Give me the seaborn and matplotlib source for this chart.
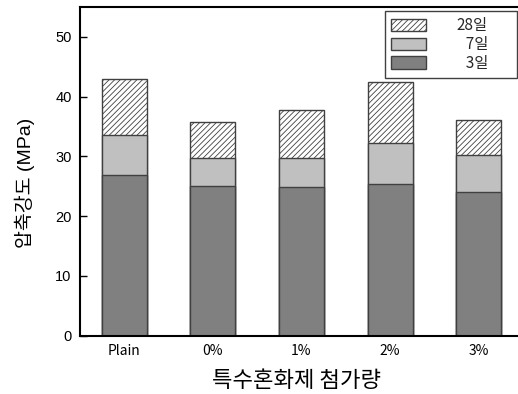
import matplotlib
matplotlib.use("Agg")
import matplotlib.pyplot as plt
from matplotlib.patches import Patch
from matplotlib.font_manager import FontProperties
import pandas as pd
import seaborn as sns

# Compressive strength by admixture dosage and curing age
groups = ["Plain", "0%", "1%", "2%", "3%"]
day3 = [26.8, 25.0, 24.8, 25.3, 24.1]
day7 = [33.5, 29.8, 29.7, 32.3, 30.2]
day28 = [43.0, 35.8, 37.8, 42.5, 36.1]
series_labels = ["28일", "\u20077일", "\u20073일"]
yticks = [0, 10, 20, 30, 40, 50]

sns.set_theme(style="white")
plt.rcParams["font.family"] = ["Noto Sans CJK KR", "DejaVu Sans"]
plt.rcParams["hatch.linewidth"] = 0.6
plt.rcParams["hatch.color"] = "#404040"

df = pd.DataFrame({"group": groups, "d3": day3, "d7": day7, "d28": day28})

fig = plt.figure(figsize=(5.18, 3.94), dpi=100)
ax = fig.add_axes([80 / 518, 1 - 335.5 / 394, 443 / 518, 328.5 / 394])

# overlapping bars: longest age at the back, shortest in front
layers = [("d28", "white", "//////"), ("d7", "#c0c0c0", None), ("d3", "#808080", None)]
for col, color, hatch in layers:
    sns.barplot(data=df, x="group", y=col, order=groups, color=color,
                saturation=1, width=0.51, edgecolor="#404040", linewidth=1.0,
                hatch=hatch, errorbar=None, ax=ax)

ax.set_xlim(-0.5, 4.5)
ax.set_ylim(0, 55)
ax.set_yticks(yticks)

for side in ["left", "bottom", "top"]:
    ax.spines[side].set_color("black")
    ax.spines[side].set_linewidth(1.5)
ax.spines["right"].set_visible(False)

ax.tick_params(axis="y", direction="in", length=5, width=1, pad=6,
               labelsize=10.5, colors="black", left=True)
ax.tick_params(axis="x", length=0, pad=6, labelsize=10, colors="black")
for lab in ax.get_yticklabels():
    lab.set_fontfamily(["Liberation Sans", "DejaVu Sans"])

ax.set_xlabel("특수혼화제 첨가량", fontsize=16, color="black")
ax.set_ylabel("압축강도 (MPa)", fontsize=14, color="black",
              fontfamily=["Liberation Sans", "Noto Sans CJK KR"])
ax.xaxis.set_label_coords(0.488, -0.102)
ax.yaxis.set_label_coords(-0.101, 0.466)

handles = [
    Patch(facecolor="white", edgecolor="#404040", hatch="//////", linewidth=1.0),
    Patch(facecolor="#c0c0c0", edgecolor="#404040", linewidth=1.0),
    Patch(facecolor="#808080", edgecolor="#404040", linewidth=1.0),
]
leg = ax.legend(handles, series_labels, loc="upper left",
                bbox_to_anchor=(385 / 518, 1 - 11 / 394 - 0.01, 132 / 518, 0.01),
                bbox_transform=fig.transFigure, mode="expand", borderaxespad=0,
                prop=FontProperties(family=["Noto Sans CJK KR", "DejaVu Sans"], size=11),
                handlelength=2.3, handleheight=0.85, handletextpad=1.95,
                labelspacing=0.12, borderpad=0.4, fancybox=False, shadow=False,
                framealpha=1)
leg.get_frame().set_edgecolor("#404040")
leg.get_frame().set_linewidth(1.0)

fig.savefig("out.png", dpi=100)
